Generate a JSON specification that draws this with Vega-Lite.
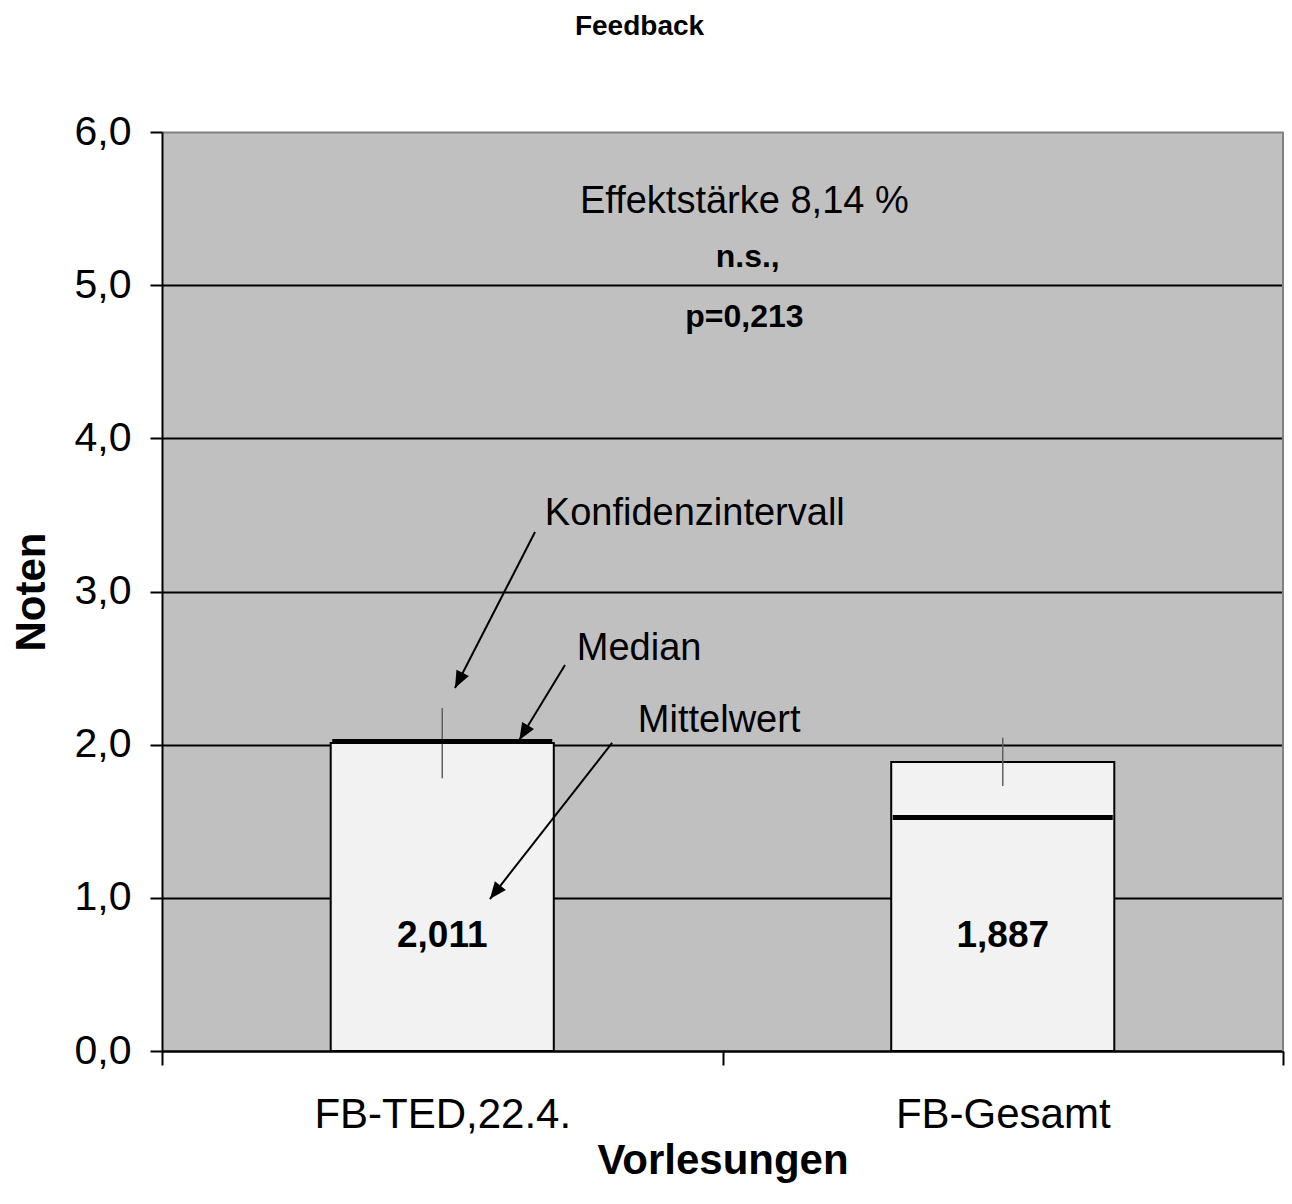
{
  "$schema": "https://vega.github.io/schema/vega-lite/v6.json",
  "width": 1121,
  "height": 919,
  "autosize": {"type": "none"},
  "padding": {"left": 162, "top": 132, "right": 9, "bottom": 153},
  "background": "white",
  "title": {"text": "Feedback", "fontSize": 28, "fontWeight": "bold", "font": "Liberation Sans", "color": "black", "anchor": "middle", "frame": "group", "dx": -83, "baseline": "alphabetic", "offset": 48},
  "config": {
    "locale": {"number": {"decimal": ",", "thousands": ".", "grouping": [3], "currency": ["", " €"]}},
    "font": "Liberation Sans",
    "view": {"fill": "#C0C0C0", "stroke": null}
  },
  "datasets": {
    "bars": [
      {"Vorlesung": "FB-TED,22.4.", "Mittelwert": 2.011, "Median": 2.02, "KI_unten": 1.78, "KI_oben": 2.24},
      {"Vorlesung": "FB-Gesamt", "Mittelwert": 1.887, "Median": 1.525, "KI_unten": 1.73, "KI_oben": 2.045}
    ],
    "arrows": [
      {"Pfeil": "Konfidenzintervall", "x_start": 0.6655, "y_start": 3.388, "x_end": 0.5227, "y_end": 2.37, "Winkel": 207, "x_text": 0.683, "y_text": 3.434},
      {"Pfeil": "Median", "x_start": 0.719, "y_start": 2.52, "x_end": 0.6375, "y_end": 2.03, "Winkel": 211, "x_text": 0.74, "y_text": 2.553},
      {"Pfeil": "Mittelwert", "x_start": 0.803, "y_start": 2.011, "x_end": 0.585, "y_end": 0.992, "Winkel": 218, "x_text": 0.849, "y_text": 2.083}
    ],
    "effekt": [
      {"Text": "Effektstärke 8,14 %", "x": 1.039, "y": 5.471}
    ],
    "signifikanz": [
      {"Text": "n.s.,", "x": 1.045, "y": 5.118},
      {"Text": "p=0,213", "x": 1.039, "y": 4.729}
    ]
  },
  "layer": [
    {
      "data": {"name": "bars"},
      "encoding": {
        "x": {
          "field": "Vorlesung", "type": "nominal", "sort": null,
          "scale": {"paddingInner": 0, "paddingOuter": 0},
          "axis": {"title": "Vorlesungen", "labelAngle": 0, "labelFontSize": 42, "labelLimit": 0, "labelColor": "black", "labelPadding": 29, "tickBand": "extent", "tickSize": 14, "tickColor": "black", "tickWidth": 2, "domainColor": "black", "domainWidth": 2, "titleFontSize": 42, "titleFontWeight": "bold", "titleColor": "black", "titlePadding": 5, "grid": false}
        }
      },
      "layer": [
        {
          "mark": {"type": "bar", "width": {"band": 0.398}, "fill": "#F2F2F2", "stroke": "black", "strokeWidth": 2},
          "encoding": {
            "y": {
              "field": "Mittelwert", "type": "quantitative", "title": "Noten",
              "scale": {"domain": [0, 6], "nice": false},
              "axis": {"values": [0, 1, 2, 3, 4, 5, 6], "format": ".1f", "labelFontSize": 41, "labelColor": "black", "labelPadding": 19, "tickSize": 12, "tickColor": "black", "tickWidth": 2, "domainColor": "black", "domainWidth": 2, "grid": true, "gridColor": {"condition": {"test": "datum.value >= 6", "value": "#808080"}, "value": "black"}, "gridWidth": 2, "titleFontSize": 42, "titleFontWeight": "bold", "titleColor": "black", "titlePadding": 21}
            }
          }
        },
        {
          "mark": {"type": "rule", "color": "#606060", "strokeWidth": 1.5},
          "encoding": {
            "y": {"field": "KI_unten", "type": "quantitative", "title": "Noten"},
            "y2": {"field": "KI_oben"}
          }
        },
        {
          "mark": {"type": "tick", "thickness": 5, "size": 220, "color": "black", "opacity": 1},
          "encoding": {
            "y": {"field": "Median", "type": "quantitative", "title": "Noten"}
          }
        },
        {
          "mark": {"type": "text", "fontSize": 37, "fontWeight": "bold", "baseline": "alphabetic", "color": "black"},
          "encoding": {
            "y": {"datum": 0.682, "type": "quantitative", "title": "Noten"},
            "text": {"field": "Mittelwert", "type": "quantitative", "format": ".3f"}
          }
        }
      ]
    },
    {
      "layer": [
        {
          "data": {"name": "arrows"},
          "mark": {"type": "rule", "color": "black", "strokeWidth": 2},
          "encoding": {
            "x": {"field": "x_start", "type": "quantitative", "scale": {"domain": [0, 2], "nice": false, "zero": false}, "axis": null},
            "y": {"field": "y_start", "type": "quantitative", "title": "Noten"},
            "x2": {"field": "x_end"},
            "y2": {"field": "y_end"}
          }
        },
        {
          "data": {"name": "arrows"},
          "mark": {"type": "point", "shape": "M0,0L-0.41,1L0.41,1Z", "size": 1156, "filled": true, "color": "black", "opacity": 1, "strokeWidth": 0},
          "encoding": {
            "x": {"field": "x_end", "type": "quantitative", "axis": null},
            "y": {"field": "y_end", "type": "quantitative", "title": "Noten"},
            "angle": {"field": "Winkel", "type": "quantitative", "scale": null}
          }
        },
        {
          "data": {"name": "arrows"},
          "mark": {"type": "text", "fontSize": 38, "align": "left", "baseline": "alphabetic", "color": "black"},
          "encoding": {
            "x": {"field": "x_text", "type": "quantitative", "axis": null},
            "y": {"field": "y_text", "type": "quantitative", "title": "Noten"},
            "text": {"field": "Pfeil"}
          }
        },
        {
          "data": {"name": "effekt"},
          "mark": {"type": "text", "fontSize": 38, "align": "center", "baseline": "alphabetic", "color": "black"},
          "encoding": {
            "x": {"field": "x", "type": "quantitative", "axis": null},
            "y": {"field": "y", "type": "quantitative", "title": "Noten"},
            "text": {"field": "Text"}
          }
        },
        {
          "data": {"name": "signifikanz"},
          "mark": {"type": "text", "fontSize": 32, "fontWeight": "bold", "align": "center", "baseline": "alphabetic", "color": "black"},
          "encoding": {
            "x": {"field": "x", "type": "quantitative", "axis": null},
            "y": {"field": "y", "type": "quantitative", "title": "Noten"},
            "text": {"field": "Text"}
          }
        },
        {
          "data": {"values": [{"Rand": 2}]},
          "mark": {"type": "rule", "color": "#808080", "strokeWidth": 2},
          "encoding": {
            "x": {"field": "Rand", "type": "quantitative", "axis": null},
            "y": {"datum": 0, "type": "quantitative", "title": "Noten"},
            "y2": {"datum": 6}
          }
        }
      ]
    }
  ],
  "resolve": {"scale": {"x": "independent"}}
}
